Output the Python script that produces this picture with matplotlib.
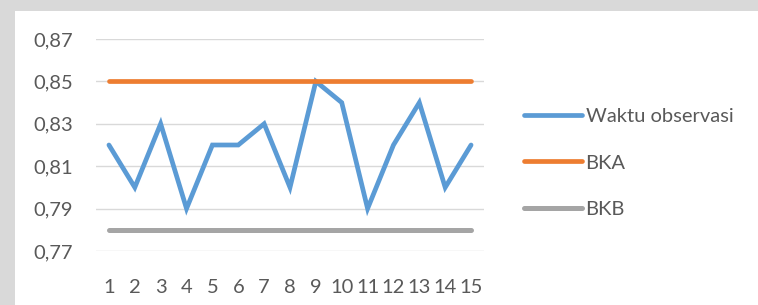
import matplotlib.pyplot as plt
from matplotlib.patches import Rectangle

plt.rcParams['font.family'] = ['Lato', 'DejaVu Sans']

# data
observasi = [1, 2, 3, 4, 5, 6, 7, 8, 9, 10, 11, 12, 13, 14, 15]
waktu = [0.82, 0.80, 0.83, 0.79, 0.82, 0.82, 0.83, 0.80, 0.85, 0.84, 0.79, 0.82, 0.84, 0.80, 0.82]
bka = [0.85] * 15
bkb = [0.78] * 15
y_ticks = [0.77, 0.79, 0.81, 0.83, 0.85, 0.87]
y_labels = ['0,77', '0,79', '0,81', '0,83', '0,85', '0,87']

fig = plt.figure(figsize=(7.58, 3.05), dpi=100, facecolor='#d9d9d9')
# white chart area
fig.patches.append(Rectangle((15 / 758, 0), 1, 1 - 11 / 305, transform=fig.transFigure,
                             facecolor='white', edgecolor='none', zorder=-5))

ax = fig.add_axes([96 / 758, 1 - 251 / 305, (484 - 96) / 758, (251 - 39) / 305])
ax.set_zorder(2)
ax.set_facecolor('none')

l1, = ax.plot(observasi, waktu, color='#5B9BD5', lw=3.4, solid_capstyle='round',
              solid_joinstyle='miter', label='Waktu observasi', zorder=3)
l2, = ax.plot(observasi, bka, color='#ED7D31', lw=3.4, solid_capstyle='round', label='BKA', zorder=3)
l3, = ax.plot(observasi, bkb, color='#A5A5A5', lw=3.6, solid_capstyle='round', label='BKB', zorder=3)

ax.set_xlim(0.5, 15.5)
ax.set_ylim(0.77, 0.87)
ax.set_yticks(y_ticks)
ax.set_yticklabels(y_labels)
ax.set_xticks(observasi)
ax.set_xticklabels([str(i) for i in observasi])
ax.yaxis.grid(True, color='#d9d9d9', lw=1)
ax.set_axisbelow(True)
for s in ax.spines.values():
    s.set_visible(False)
ax.tick_params(length=0, labelsize=14.5, labelcolor='#595959')
ax.tick_params(axis='y', pad=16.5)
ax.tick_params(axis='x', pad=20)

leg = fig.legend(handles=[l1, l2, l3], loc='center left', bbox_to_anchor=(506 / 758, 1 - 163 / 305),
                 frameon=False, fontsize=14.5, handlelength=2.85, handletextpad=0.2,
                 labelspacing=1.45, labelcolor='#595959')
leg.set_zorder(3)

fig.savefig('out.png', dpi=100, facecolor=fig.get_facecolor())
